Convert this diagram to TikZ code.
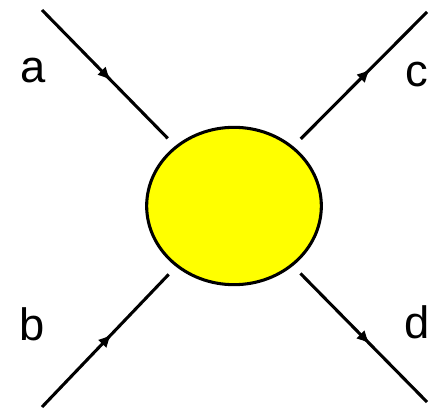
\documentclass[tikz,border=0pt]{standalone}
\usepackage{fontspec}
\setmainfont{Liberation Sans}
\usetikzlibrary{positioning, calc, arrows.meta, shapes.geometric, decorations.markings}
\definecolor{blobyellow}{RGB}{255,255,0}

\begin{document}
\begin{tikzpicture}[x=0.75pt, y=-0.75pt, blob/.style={ellipse, draw, line width=2.3pt, fill=blobyellow, minimum width=131pt, minimum height=118pt, inner sep=0pt, outer sep=9pt}, leg/.style={line width=2.3pt, postaction={decorate}, decoration={markings, mark=at position 0.55 with {\arrow{Latex[length=10pt,width=9pt]}}}}, lbl/.style={inner sep=0pt, anchor=base west, font=\fontsize{34}{40}\selectfont}]
      \useasboundingbox (0,0) rectangle (431,409);
      \node[blob] (vertex) at (234,206) {};
      \coordinate (ina) at (42,10); \coordinate (inb) at (42,407);
      \coordinate (outc) at (427,12); \coordinate (outd) at (427,402);

      \draw[leg] (ina) -- (vertex); \draw[leg] (inb) -- (vertex);
      \draw[leg] (vertex) -- (outc); \draw[leg] (vertex) -- (outd);

      \node[lbl] (la) at (20,83) {a}; \node[lbl] (lb) at (19,340) {b};
      \node[lbl] (lc) at (405,87) {c}; \node[lbl] (ld) at (404,338) {d};
    \end{tikzpicture}
\end{document}
